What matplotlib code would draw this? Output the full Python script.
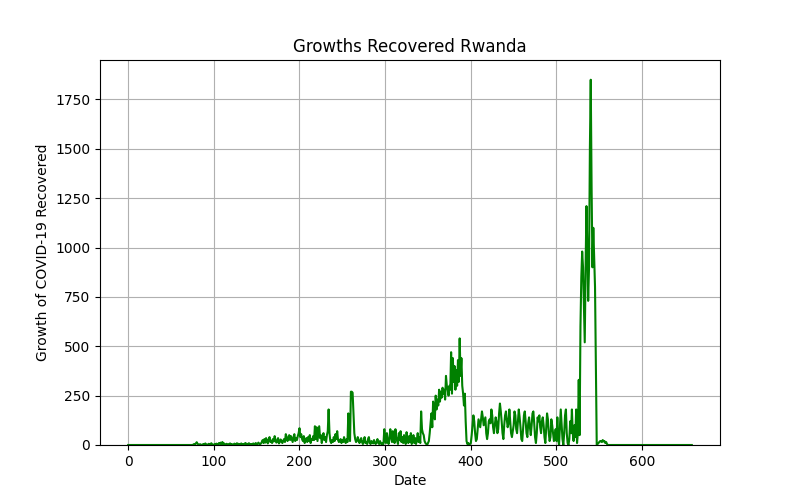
import numpy as np
import matplotlib
matplotlib.use('Agg')
import matplotlib.pyplot as plt

# daily growth of recovered cases
early = [0] * 75
low = [0, 2, 5, 3, 8, 14, 6, 3, 2, 4,
       1, 0, 3, 5, 2, 8, 4, 1, 0, 6,
       3, 2, 9, 4, 1, 0, 5, 3, 7, 2,
       4, 10, 6, 12, 3, 15, 5, 8, 2, 4,
       6, 3, 1, 5, 8, 2, 4, 0, 3, 7,
       2, 5, 9, 3, 6, 1, 4, 8, 2, 5,
       3, 7, 10, 4, 2, 6, 9, 3, 5, 1,
       4, 8, 3, 6, 10, 2, 5, 12, 7, 3,
       8, 15, 25, 10, 30]
wave1 = [12, 35, 20, 8, 28, 40, 15, 22, 10, 30,
         18, 45, 25, 12, 20, 35, 8, 15, 28, 18,
         10, 22, 30, 15, 55, 40, 20, 35, 50, 25,
         45, 30, 15, 40, 55, 20, 35, 25, 45, 60,
         85, 40, 55, 30, 20, 45, 10, 25, 35, 15,
         40, 20, 50, 10, 30, 25, 45, 25, 95, 30,
         90, 20, 60, 95, 35, 50, 10, 40, 60, 25,
         40, 15, 50, 70, 180, 60, 20, 10, 25, 15,
         40, 20, 55, 30, 70, 25, 15, 20, 30, 10,
         25, 15, 40, 20, 10, 30, 15, 160, 40, 20,
         270, 270, 265, 160, 60, 30, 15, 20, 40, 25]
lull = [10, 20, 35, 15, 5, 20, 40, 10, 15, 5,
        30, 40, 10, 5, 20, 15, 8, 25, 10, 5,
        15, 30, 10, 5, 20, 8, 3, 10, 5, 80,
        20, 10, 60, 25, 5, 30, 80, 45, 15, 70,
        30, 10, 80, 40, 20, 5, 60, 25, 70, 15,
        40, 10, 50, 25, 5, 65, 30, 10, 45, 15,
        60, 5, 20, 50, 10, 35, 5, 25, 60, 15,
        40, 10, 170, 80, 60, 50, 20, 10, 5, 0]
wave2 = [10, 20, 60, 110, 160, 90, 220, 150, 130, 250,
         180, 230, 200, 280, 220, 270, 240, 290, 260, 280,
         230, 350, 300, 280, 250, 300, 280, 470, 260, 440,
         320, 400, 280, 380, 300, 430, 320, 540, 350, 440,
         300, 260, 200, 260, 120, 20, 5, 10, 0, 5]
plateau = [10, 50, 100, 150, 120, 60, 20, 30, 80, 130,
           110, 90, 130, 170, 140, 100, 120, 140, 60, 30,
           60, 120, 130, 110, 180, 150, 90, 60, 100, 140,
           120, 60, 80, 160, 210, 170, 120, 60, 30, 100,
           150, 170, 130, 90, 110, 180, 120, 60, 40, 70,
           100, 170, 150, 80, 60, 120, 180, 140, 90, 30,
           20, 80, 150, 170, 120, 60, 40, 110, 140, 90,
           50, 100, 160, 170, 110, 40, 10, 60, 140, 120,
           150, 90, 60, 120, 140, 100, 40, 10, 90, 160,
           130, 60, 20, 40, 130, 100, 60, 20, 40, 80]
peak = [20, 140, 30, 0, 90, 180, 100, 30, 0, 60,
        150, 180, 60, 10, 0, 30, 120, 60, 180, 60,
        20, 100, 40, 180, 10, 60, 330, 50, 600, 850,
        980, 900, 700, 520, 900, 1210, 1000, 730, 900, 1500,
        1850, 1300, 900, 1100, 950, 800, 400, 0, 5, 10,
        15, 20, 20, 15, 25, 18, 20, 10, 15, 5]
late = [0] * 99

recovered = early + low + wave1 + lull + wave2 + plateau + peak + late
days = np.arange(len(recovered))

plt.figure(figsize=(8, 5))
plt.plot(days, recovered, color='green')
plt.xlabel('Date')
plt.ylabel('Growth of COVID-19 Recovered')
plt.title('Growths Recovered Rwanda')
plt.ylim(0, 1950)
plt.grid(True)
plt.savefig('out.png')
